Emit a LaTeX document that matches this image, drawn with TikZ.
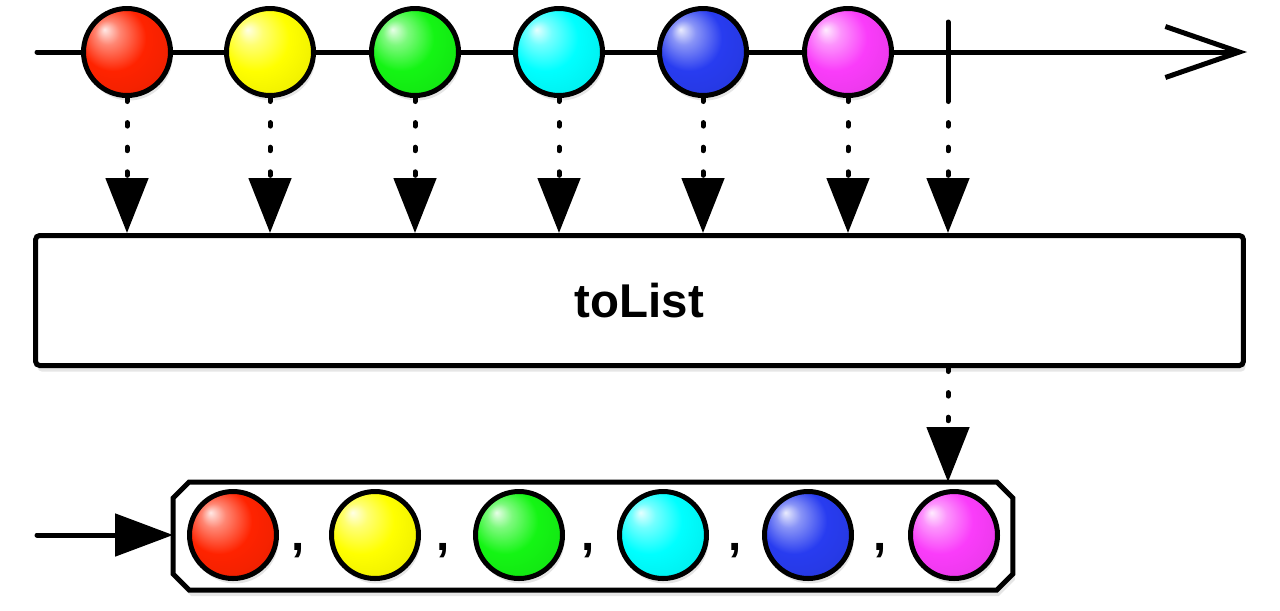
\documentclass[tikz,border=0pt]{standalone}
\usepackage{fontspec}
\setmainfont{Liberation Sans}
\usetikzlibrary{arrows.meta,shadows}
\definecolor{mred}{RGB}{255,35,0}
\definecolor{myellow}{RGB}{255,255,0}
\definecolor{mgreen}{RGB}{20,245,20}
\definecolor{mcyan}{RGB}{0,255,255}
\definecolor{mblue}{RGB}{40,60,240}
\definecolor{mpink}{RGB}{250,60,250}
\colorlet{mball}{red}
\pgfdeclareradialshading[mball]{marbleshade}{\pgfqpoint{-13bp}{13bp}}{%
  color(0bp)=(mball!10!white); color(7bp)=(mball!55!white); color(19bp)=(mball);
  color(36bp)=(mball!92!black); color(50bp)=(mball!68!black)}

\begin{document}
\begin{tikzpicture}[x=0.02cm, y=-0.02cm, line width=0.1cm, line cap=round]
\tikzset{
    marble/.style={circle, draw, minimum size=1.74cm, inner sep=0pt,
        /utils/exec={\colorlet{mball}{#1}}, shade, shading=marbleshade,
        drop shadow={opacity=0.2, shadow xshift=0.04cm, shadow yshift=-0.1cm}},
    emit/.style={dash pattern=on 2pt off 12pt, -{Triangle[length=1.1cm, width=0.84cm]}},
    feed/.style={-{Triangle[length=1.16cm, width=0.84cm]}},
    opbox/.style={draw, fill=white, rounded corners=0.08cm, minimum width=24.16cm, minimum height=2.6cm,
        font=\fontsize{27}{32}\selectfont\bfseries,
        drop shadow={opacity=0.2, shadow xshift=0.04cm, shadow yshift=-0.12cm}},
    listbox/.style={minimum width=16.7cm, minimum height=2.06cm, inner sep=0pt},
    listshape/.style={draw, fill=white, line join=miter,
        drop shadow={opacity=0.2, shadow xshift=0.04cm, shadow yshift=-0.12cm}},
    sep/.style={inner sep=0pt, anchor=base, font=\fontsize{27}{32}\selectfont\bfseries},
}
\useasboundingbox (0,0) rectangle (1280,610);

% The source line goes first, under the marbles.
\coordinate (src start) at (37,52);
\coordinate (src end) at (1247,52);
\draw[-{Straight Barb[length=1.48cm, width=1.02cm]}] (src start) -- (src end);

% Marbles as they arrive.
\node (m1) [marble=mred]    at (127,52) {};
\node (m2) [marble=myellow] at (270,52) {};
\node (m3) [marble=mgreen]  at (415,52) {};
\node (m4) [marble=mcyan]   at (559,52) {};
\node (m5) [marble=mblue]   at (703,52) {};
\node (m6) [marble=mpink]   at (848,52) {};

% Completion bar.
\coordinate (stop top) at (948,22);
\coordinate (stop bot) at (948,98);
\draw (stop top) -- (stop bot);

% The operator.
\node (op) [opbox] at (639.5,300.5) {toList};

% Dotted arrows down into the operator.
\draw[emit] (m1) -- (m1 |- op.north);
\draw[emit] (m2) -- (m2 |- op.north);
\draw[emit] (m3) -- (m3 |- op.north);
\draw[emit] (m4) -- (m4 |- op.north);
\draw[emit] (m5) -- (m5 |- op.north);
\draw[emit] (m6) -- (m6 |- op.north);
\draw[emit] (stop bot) -- (stop bot |- op.north);

% The single list, emitted on completion (chamfered corners).
\node (lst) [listbox] at (593,536) {};
\path[listshape] ([yshift=-0.32cm]lst.north west) -- ([xshift=0.32cm]lst.north west)
    -- ([xshift=-0.32cm]lst.north east) -- ([yshift=-0.32cm]lst.north east)
    -- ([yshift=0.32cm]lst.south east) -- ([xshift=-0.32cm]lst.south east)
    -- ([xshift=0.32cm]lst.south west) -- ([yshift=0.32cm]lst.south west) -- cycle;
\draw[emit] (stop bot |- op.south) -- (stop bot |- lst.north);
\coordinate (out start) at (37,535);
\draw[feed] (out start) -- (out start -| lst.west);

% Items of the list.
\node (l1) [marble=mred]    at (233,535) {};
\node (c1) [sep]            at (298,550) {,};
\node (l2) [marble=myellow] at (375,535) {};
\node (c2) [sep]            at (443,550) {,};
\node (l3) [marble=mgreen]  at (519,535) {};
\node (c3) [sep]            at (588,550) {,};
\node (l4) [marble=mcyan]   at (663,535) {};
\node (c4) [sep]            at (735,550) {,};
\node (l5) [marble=mblue]   at (808,535) {};
\node (c5) [sep]            at (880,550) {,};
\node (l6) [marble=mpink]   at (954,535) {};
\end{tikzpicture}
\end{document}
